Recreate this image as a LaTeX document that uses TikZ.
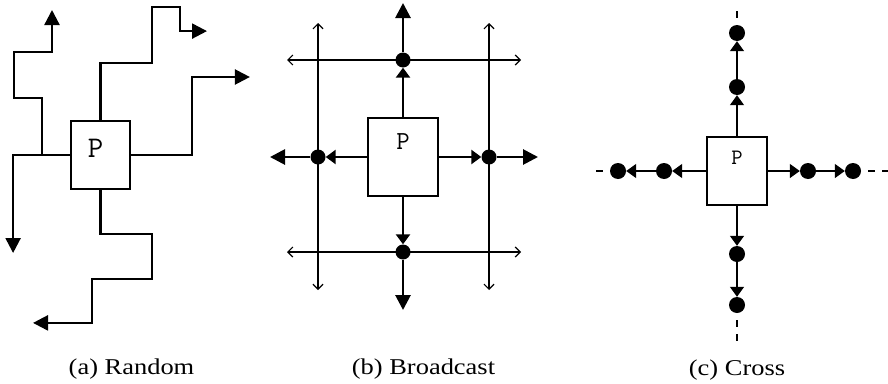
\documentclass[tikz,border=0pt]{standalone}
\usepackage{fontspec}
\newfontfamily\capfont[FakeStretch=1.17]{Liberation Serif}
\usetikzlibrary{arrows.meta,positioning}
\tikzset{
  wire/.style={line width=2.3pt},
  fatwire/.style={line width=2.8pt},
  thinwire/.style={line width=1.2pt},
  crosswire/.style={line width=1.4pt},
  box/.style={draw, fill=white, line width=1.8pt, inner sep=0pt},
  bdot/.style={circle, fill=black, inner sep=0pt, minimum size=15pt},
  cdot/.style={circle, fill=black, inner sep=0pt, minimum size=16pt},
  plabel/.style={font=\ttfamily\fontsize{26}{26}\selectfont, inner sep=0pt},
  caption/.style={font=\capfont\fontsize{22.6}{24}\selectfont, inner sep=0pt, anchor=base},
  headbig/.style={-{Triangle[length=15pt,width=15pt]}},
  headdot/.style={-{Triangle[length=10pt,width=14pt]}},
  headthin/.style={{Straight Barb[length=5pt,width=10pt]}-{Straight Barb[length=5pt,width=10pt]}},
  tail/.style={line width=1.4pt, dash pattern=on 7pt off 7pt, dash phase=7pt}
}
\begin{document}
\begin{tikzpicture}[x=1pt,y=1pt]
  \useasboundingbox (0,0) rectangle (888,-383);
  % (a) random
  \node[box, minimum width=59, minimum height=68] (pa) at (100.5,-155) {};
  \node[plabel, font=\ttfamily\fontsize{30}{30}\selectfont, below=19pt of pa.north, xshift=-5pt] (pla) {P};
  \coordinate (abr) at (42,-155);
  \draw[wire, headbig] (pa.north) -- ++(0,57) -- ++(51.5,0) -- ++(0,56) -- ++(28,0) -- ++(0,-24) -- ++(27,0);
  \draw[wire, headbig] (pa.east) -- ++(61,0) -- ++(0,78) -- ++(58,0);
  \draw[wire, headbig] (pa.west) -- ++(-57,0) -- ++(0,-98);
  \draw[wire, headbig] (abr) -- ++(0,57) -- ++(-28,0) -- ++(0,46) -- ++(38,0) -- ++(0,42);
  \draw[wire, headbig] (pa.south) -- ++(0,-44) -- ++(51.5,0) -- ++(0,-45) -- ++(-60,0) -- ++(0,-44) -- ++(-59,0);
  % (b) broadcast
  \node[box, minimum width=70, minimum height=78] (pb) at (403,-157) {};
  \node[plabel, below=16pt of pb.north] (plb) {P};
  \node[bdot] (bt) at (403,-60) {}; \node[bdot] (bb) at (403,-252) {};
  \node[bdot] (bl) at (318,-157) {}; \node[bdot] (br) at (489,-157) {};
  \coordinate (btt) at (403,-3); \coordinate (bbt) at (403,-310);
  \coordinate (blt) at (270,-157); \coordinate (brt) at (538,-157);
  \coordinate (h1w) at (287,-60); \coordinate (h1e) at (521,-60);
  \coordinate (h2w) at (287,-252); \coordinate (h2e) at (521,-252);
  \coordinate (v1n) at (318,-23); \coordinate (v1s) at (318,-290);
  \coordinate (v2n) at (489,-23); \coordinate (v2s) at (489,-290);
  \draw[thinwire, headthin] (h1w) -- (h1e); \draw[thinwire, headthin] (h2w) -- (h2e);
  \draw[thinwire, headthin] (v1n) -- (v1s); \draw[thinwire, headthin] (v2n) -- (v2s);
  \draw[fatwire, headdot] (pb.north) -- (bt); \draw[fatwire, headbig] (bt) -- (btt);
  \draw[fatwire, headdot] (pb.south) -- (bb); \draw[fatwire, headbig] (bb) -- (bbt);
  \draw[fatwire, headdot] (pb.west) -- (bl); \draw[fatwire, headbig] (bl) -- (blt);
  \draw[fatwire, headdot] (pb.east) -- (br); \draw[fatwire, headbig] (br) -- (brt);
  % (c) cross
  \node[box, minimum width=60, minimum height=68] (pc) at (737,-171) {};
  \node[plabel, font=\ttfamily\fontsize{22}{22}\selectfont, below=15pt of pc.north] (plc) {P};
  \node[cdot] (cn1) at (737,-87) {}; \node[cdot] (cn2) at (737,-33) {};
  \node[cdot] (cs1) at (737,-254) {}; \node[cdot] (cs2) at (737,-305) {};
  \node[cdot] (cw1) at (664,-171) {}; \node[cdot] (cw2) at (618,-171) {};
  \node[cdot] (ce1) at (808,-171) {}; \node[cdot] (ce2) at (853,-171) {};
  \coordinate (cnt) at (737,-9); \coordinate (cst) at (737,-343);
  \coordinate (cwt) at (594,-171); \coordinate (cet) at (888,-171);
  \draw[crosswire, headdot] (pc.north) -- (cn1); \draw[crosswire, headdot] (cn1) -- (cn2); \draw[tail] (cn2) -- (cnt);
  \draw[crosswire, headdot] (pc.south) -- (cs1); \draw[crosswire, headdot] (cs1) -- (cs2); \draw[tail] (cs2) -- (cst);
  \draw[crosswire, headdot] (pc.west) -- (cw1); \draw[crosswire, headdot] (cw1) -- (cw2); \draw[tail] (cw2) -- (cwt);
  \draw[crosswire, headdot] (pc.east) -- (ce1); \draw[crosswire, headdot] (ce1) -- (ce2); \draw[tail] (ce2) -- (cet);
  % captions
  \node[caption] (capa) at (131.5,-374) {(a) Random};
  \node[caption] (capb) at (423.5,-374) {(b) Broadcast};
  \node[caption] (capc) at (737,-375) {(c) Cross};
\end{tikzpicture}
\end{document}
